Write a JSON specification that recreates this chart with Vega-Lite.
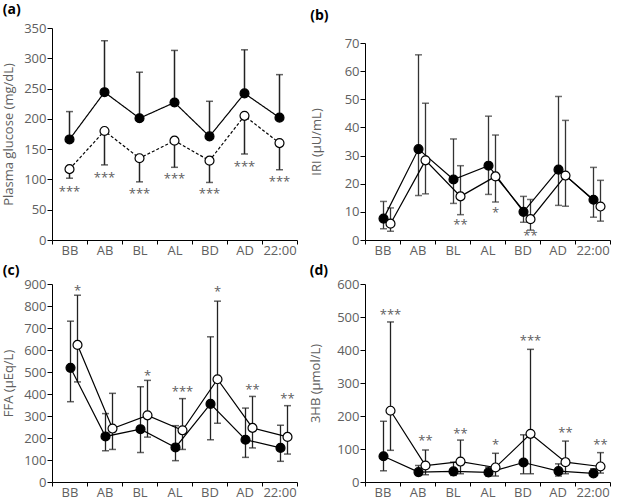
{
  "$schema": "https://vega.github.io/schema/vega-lite/v6.json",
  "padding": {"left": 2, "top": 3, "right": 3, "bottom": 0},
  "config": {
    "font": "Open Sans",
    "view": {"stroke": null},
    "axis": {"labelColor": "#606060", "labelFontSize": 13, "titleColor": "#606060", "titleFontSize": 13, "titleFontWeight": "normal", "domainColor": "#000", "tickColor": "#000", "grid": false, "tickSize": 5, "labelPadding": 1},
    "axisX": {"tickSize": 4, "labelPadding": 0},
    "title": {"fontSize": 14, "fontWeight": "bold", "color": "#000", "anchor": "start", "frame": "bounds"}
  },
  "spacing": 11,
  "hconcat": [
    {
      "spacing": 7,
      "vconcat": [
        {
          "title": {"text": "(a)", "offset": 5},
          "width": 245, "height": 212,
          "data": {"values": [
            {"t": "BB", "g": "closed", "m": 166, "lo": 166, "hi": 212},
            {"t": "AB", "g": "closed", "m": 244, "lo": 244, "hi": 329},
            {"t": "BL", "g": "closed", "m": 201, "lo": 201, "hi": 277},
            {"t": "AL", "g": "closed", "m": 227, "lo": 227, "hi": 313},
            {"t": "BD", "g": "closed", "m": 171, "lo": 171, "hi": 229},
            {"t": "AD", "g": "closed", "m": 242, "lo": 242, "hi": 314},
            {"t": "22:00", "g": "closed", "m": 202, "lo": 202, "hi": 273},
            {"t": "BB", "g": "open", "m": 117, "lo": 102, "hi": 117},
            {"t": "AB", "g": "open", "m": 180, "lo": 124, "hi": 180},
            {"t": "BL", "g": "open", "m": 135, "lo": 96, "hi": 135},
            {"t": "AL", "g": "open", "m": 164, "lo": 120, "hi": 164},
            {"t": "BD", "g": "open", "m": 131, "lo": 95, "hi": 131},
            {"t": "AD", "g": "open", "m": 205, "lo": 142, "hi": 205},
            {"t": "22:00", "g": "open", "m": 160, "lo": 116, "hi": 160}
          ]},
          "encoding": {
            "x": {"field": "t", "type": "nominal", "sort": ["BB", "AB", "BL", "AL", "BD", "AD", "22:00"], "scale": {"type": "band", "paddingInner": 0, "paddingOuter": 0}, "axis": {"title": null, "labelAngle": 0, "tickBand": "extent"}}
          },
          "layer": [
            {"mark": {"type": "rule", "color": "#222", "strokeWidth": 1.5}, "encoding": {"y": {"field": "lo", "type": "quantitative", "scale": {"domain": [0, 350]}, "axis": {"title": "Plasma glucose (mg/dL)", "values": [0, 50, 100, 150, 200, 250, 300, 350], "titlePadding": 8}}, "y2": {"field": "hi"}}},
            {"mark": {"type": "tick", "color": "#222", "size": 7, "thickness": 1.5}, "encoding": {"y": {"field": "hi", "type": "quantitative", "scale": {"domain": [0, 350]}, "axis": {"title": "Plasma glucose (mg/dL)", "values": [0, 50, 100, 150, 200, 250, 300, 350], "titlePadding": 8}}}},
            {"mark": {"type": "tick", "color": "#222", "size": 7, "thickness": 1.5}, "encoding": {"y": {"field": "lo", "type": "quantitative", "scale": {"domain": [0, 350]}, "axis": {"title": "Plasma glucose (mg/dL)", "values": [0, 50, 100, 150, 200, 250, 300, 350], "titlePadding": 8}}}},
            {"mark": {"type": "line", "color": "#000", "strokeWidth": 1.2}, "encoding": {"y": {"field": "m", "type": "quantitative", "scale": {"domain": [0, 350]}, "axis": {"title": "Plasma glucose (mg/dL)", "values": [0, 50, 100, 150, 200, 250, 300, 350], "titlePadding": 8}}, "strokeDash": {"field": "g", "type": "nominal", "scale": {"domain": ["closed", "open"], "range": [[1, 0], [3, 2]]}, "legend": null}}},
            {"mark": {"type": "point", "shape": "circle", "filled": true, "stroke": "#000", "strokeWidth": 1.2, "size": 80, "opacity": 1}, "encoding": {"y": {"field": "m", "type": "quantitative", "scale": {"domain": [0, 350]}, "axis": {"title": "Plasma glucose (mg/dL)", "values": [0, 50, 100, 150, 200, 250, 300, 350], "titlePadding": 8}}, "fill": {"field": "g", "type": "nominal", "scale": {"domain": ["closed", "open"], "range": ["#000", "#fff"]}, "legend": null}}},
            {
              "data": {"values": [
                {"t": "BB", "y": 84, "s": "***"}, {"t": "AB", "y": 107, "s": "***"}, {"t": "BL", "y": 81, "s": "***"},
                {"t": "AL", "y": 105, "s": "***"}, {"t": "BD", "y": 81, "s": "***"}, {"t": "AD", "y": 125, "s": "***"}, {"t": "22:00", "y": 100, "s": "***"}
              ]},
              "mark": {"type": "text", "fontSize": 13, "color": "#606060", "baseline": "alphabetic", "dy": 7},
              "encoding": {"y": {"field": "y", "type": "quantitative", "scale": {"domain": [0, 350]}, "axis": {"title": "Plasma glucose (mg/dL)", "values": [0, 50, 100, 150, 200, 250, 300, 350], "titlePadding": 8}}, "text": {"field": "s"}}
            }
          ]
        },
        {
          "title": {"text": "(c)", "offset": 0},
          "width": 245, "height": 198,
          "data": {"values": [
            {"t": "BB", "g": "closed", "m": 519, "lo": 365, "hi": 731},
            {"t": "AB", "g": "closed", "m": 207, "lo": 142, "hi": 311},
            {"t": "BL", "g": "closed", "m": 240, "lo": 134, "hi": 433},
            {"t": "AL", "g": "closed", "m": 157, "lo": 97, "hi": 256},
            {"t": "BD", "g": "closed", "m": 355, "lo": 192, "hi": 660},
            {"t": "AD", "g": "closed", "m": 192, "lo": 112, "hi": 336},
            {"t": "22:00", "g": "closed", "m": 155, "lo": 94, "hi": 258},
            {"t": "BB", "g": "open", "m": 623, "lo": 455, "hi": 849},
            {"t": "AB", "g": "open", "m": 243, "lo": 148, "hi": 403},
            {"t": "BL", "g": "open", "m": 303, "lo": 204, "hi": 462},
            {"t": "AL", "g": "open", "m": 235, "lo": 148, "hi": 379},
            {"t": "BD", "g": "open", "m": 467, "lo": 267, "hi": 822},
            {"t": "AD", "g": "open", "m": 246, "lo": 155, "hi": 389},
            {"t": "22:00", "g": "open", "m": 205, "lo": 127, "hi": 347}
          ]},
          "encoding": {
            "x": {"field": "t", "type": "nominal", "sort": ["BB", "AB", "BL", "AL", "BD", "AD", "22:00"], "scale": {"type": "band", "paddingInner": 0, "paddingOuter": 0}, "axis": {"title": null, "labelAngle": 0, "tickBand": "extent"}},
            "xOffset": {"field": "g", "type": "nominal", "scale": {"domain": ["closed", "open"], "range": [15, 29]}}
          },
          "layer": [
            {"mark": {"type": "rule", "color": "#222", "strokeWidth": 1.3}, "encoding": {"y": {"field": "lo", "type": "quantitative", "scale": {"domain": [0, 900]}, "axis": {"title": "FFA (μEq/L)", "values": [0, 100, 200, 300, 400, 500, 600, 700, 800, 900], "titlePadding": 8}}, "y2": {"field": "hi"}}},
            {"mark": {"type": "tick", "color": "#222", "size": 7, "thickness": 1.5}, "encoding": {"y": {"field": "hi", "type": "quantitative", "scale": {"domain": [0, 900]}, "axis": {"title": "FFA (μEq/L)", "values": [0, 100, 200, 300, 400, 500, 600, 700, 800, 900], "titlePadding": 8}}}},
            {"mark": {"type": "tick", "color": "#222", "size": 7, "thickness": 1.5}, "encoding": {"y": {"field": "lo", "type": "quantitative", "scale": {"domain": [0, 900]}, "axis": {"title": "FFA (μEq/L)", "values": [0, 100, 200, 300, 400, 500, 600, 700, 800, 900], "titlePadding": 8}}}},
            {"mark": {"type": "line", "color": "#000", "strokeWidth": 1.2}, "encoding": {"y": {"field": "m", "type": "quantitative", "scale": {"domain": [0, 900]}, "axis": {"title": "FFA (μEq/L)", "values": [0, 100, 200, 300, 400, 500, 600, 700, 800, 900], "titlePadding": 8}}, "detail": {"field": "g"}}},
            {"mark": {"type": "point", "shape": "circle", "filled": true, "stroke": "#000", "strokeWidth": 1.2, "size": 80, "opacity": 1}, "encoding": {"y": {"field": "m", "type": "quantitative", "scale": {"domain": [0, 900]}, "axis": {"title": "FFA (μEq/L)", "values": [0, 100, 200, 300, 400, 500, 600, 700, 800, 900], "titlePadding": 8}}, "fill": {"field": "g", "type": "nominal", "scale": {"domain": ["closed", "open"], "range": ["#000", "#fff"]}, "legend": null}}},
            {
              "data": {"values": [
                {"t": "BB", "g": "open", "y": 881, "s": "*"}, {"t": "BL", "g": "open", "y": 494, "s": "*"}, {"t": "AL", "g": "open", "y": 422, "s": "***"},
                {"t": "BD", "g": "open", "y": 879, "s": "*"}, {"t": "AD", "g": "open", "y": 434, "s": "**"}, {"t": "22:00", "g": "open", "y": 392, "s": "**"}
              ]},
              "mark": {"type": "text", "fontSize": 13, "color": "#606060", "baseline": "alphabetic", "dy": 7},
              "encoding": {"y": {"field": "y", "type": "quantitative", "scale": {"domain": [0, 900]}, "axis": {"title": "FFA (μEq/L)", "values": [0, 100, 200, 300, 400, 500, 600, 700, 800, 900], "titlePadding": 8}}, "text": {"field": "s"}}
            }
          ]
        }
      ]
    },
    {
      "spacing": 7,
      "vconcat": [
        {
          "title": {"text": "(b)", "offset": 5},
          "width": 245, "height": 212,
          "data": {"values": [
            {"t": "BB", "g": "closed", "m": 7.6, "lo": 4.0, "hi": 13.7},
            {"t": "AB", "g": "closed", "m": 32.3, "lo": 15.8, "hi": 65.8},
            {"t": "BL", "g": "closed", "m": 21.5, "lo": 13, "hi": 35.9},
            {"t": "AL", "g": "closed", "m": 26.4, "lo": 16.2, "hi": 44},
            {"t": "BD", "g": "closed", "m": 10, "lo": 6.3, "hi": 15.5},
            {"t": "AD", "g": "closed", "m": 25, "lo": 12.3, "hi": 51},
            {"t": "22:00", "g": "closed", "m": 14.3, "lo": 8.1, "hi": 25.8},
            {"t": "BB", "g": "open", "m": 5.8, "lo": 3.1, "hi": 11.4},
            {"t": "AB", "g": "open", "m": 28.3, "lo": 16.4, "hi": 48.6},
            {"t": "BL", "g": "open", "m": 15.5, "lo": 9, "hi": 26.4},
            {"t": "AL", "g": "open", "m": 22.6, "lo": 13.5, "hi": 37.3},
            {"t": "BD", "g": "open", "m": 7.4, "lo": 3.5, "hi": 14.4},
            {"t": "AD", "g": "open", "m": 22.9, "lo": 12, "hi": 42.5},
            {"t": "22:00", "g": "open", "m": 11.9, "lo": 6.7, "hi": 21.2}
          ]},
          "encoding": {
            "x": {"field": "t", "type": "nominal", "sort": ["BB", "AB", "BL", "AL", "BD", "AD", "22:00"], "scale": {"type": "band", "paddingInner": 0, "paddingOuter": 0}, "axis": {"title": null, "labelAngle": 0, "tickBand": "extent"}},
            "xOffset": {"field": "g", "type": "nominal", "scale": {"domain": ["closed", "open"], "range": [15, 29]}}
          },
          "layer": [
            {"mark": {"type": "rule", "color": "#333", "strokeWidth": 1.3}, "encoding": {"y": {"field": "lo", "type": "quantitative", "scale": {"domain": [0, 70], "range": [212, 15]}, "axis": {"title": "IRI (μU/mL)", "values": [0, 10, 20, 30, 40, 50, 60, 70], "titlePadding": 21}}, "y2": {"field": "hi"}}},
            {"mark": {"type": "tick", "color": "#333", "size": 7, "thickness": 1.5}, "encoding": {"y": {"field": "hi", "type": "quantitative", "scale": {"domain": [0, 70], "range": [212, 15]}, "axis": {"title": "IRI (μU/mL)", "values": [0, 10, 20, 30, 40, 50, 60, 70], "titlePadding": 21}}}},
            {"mark": {"type": "tick", "color": "#333", "size": 7, "thickness": 1.5}, "encoding": {"y": {"field": "lo", "type": "quantitative", "scale": {"domain": [0, 70], "range": [212, 15]}, "axis": {"title": "IRI (μU/mL)", "values": [0, 10, 20, 30, 40, 50, 60, 70], "titlePadding": 21}}}},
            {"mark": {"type": "line", "color": "#000", "strokeWidth": 1.2}, "encoding": {"y": {"field": "m", "type": "quantitative", "scale": {"domain": [0, 70], "range": [212, 15]}, "axis": {"title": "IRI (μU/mL)", "values": [0, 10, 20, 30, 40, 50, 60, 70], "titlePadding": 21}}, "detail": {"field": "g"}}},
            {"mark": {"type": "point", "shape": "circle", "filled": true, "stroke": "#000", "strokeWidth": 1.2, "size": 80, "opacity": 1}, "encoding": {"y": {"field": "m", "type": "quantitative", "scale": {"domain": [0, 70], "range": [212, 15]}, "axis": {"title": "IRI (μU/mL)", "values": [0, 10, 20, 30, 40, 50, 60, 70], "titlePadding": 21}}, "fill": {"field": "g", "type": "nominal", "scale": {"domain": ["closed", "open"], "range": ["#000", "#fff"]}, "legend": null}}},
            {
              "data": {"values": [
                {"t": "BL", "g": "open", "y": 6.5, "s": "**"}, {"t": "AL", "g": "open", "y": 10.5, "s": "*"}, {"t": "BD", "g": "open", "y": 2.6, "s": "**"}
              ]},
              "mark": {"type": "text", "fontSize": 13, "color": "#606060", "baseline": "alphabetic", "dy": 7},
              "encoding": {"y": {"field": "y", "type": "quantitative", "scale": {"domain": [0, 70], "range": [212, 15]}, "axis": {"title": "IRI (μU/mL)", "values": [0, 10, 20, 30, 40, 50, 60, 70], "titlePadding": 21}}, "text": {"field": "s"}}
            }
          ]
        },
        {
          "title": {"text": "(d)", "offset": 0},
          "width": 245, "height": 198,
          "data": {"values": [
            {"t": "BB", "g": "closed", "m": 78, "lo": 34, "hi": 184},
            {"t": "AB", "g": "closed", "m": 30, "lo": 20, "hi": 50},
            {"t": "BL", "g": "closed", "m": 32, "lo": 20, "hi": 60},
            {"t": "AL", "g": "closed", "m": 29, "lo": 18, "hi": 45},
            {"t": "BD", "g": "closed", "m": 59, "lo": 25, "hi": 143},
            {"t": "AD", "g": "closed", "m": 33, "lo": 18, "hi": 55},
            {"t": "22:00", "g": "closed", "m": 26, "lo": 18, "hi": 40},
            {"t": "BB", "g": "open", "m": 216, "lo": 96, "hi": 485},
            {"t": "AB", "g": "open", "m": 50, "lo": 22, "hi": 97},
            {"t": "BL", "g": "open", "m": 62, "lo": 25, "hi": 127},
            {"t": "AL", "g": "open", "m": 44, "lo": 18, "hi": 87},
            {"t": "BD", "g": "open", "m": 146, "lo": 25, "hi": 402},
            {"t": "AD", "g": "open", "m": 60, "lo": 25, "hi": 124},
            {"t": "22:00", "g": "open", "m": 47, "lo": 27, "hi": 89}
          ]},
          "encoding": {
            "x": {"field": "t", "type": "nominal", "sort": ["BB", "AB", "BL", "AL", "BD", "AD", "22:00"], "scale": {"type": "band", "paddingInner": 0, "paddingOuter": 0}, "axis": {"title": null, "labelAngle": 0, "tickBand": "extent"}},
            "xOffset": {"field": "g", "type": "nominal", "scale": {"domain": ["closed", "open"], "range": [15, 29]}}
          },
          "layer": [
            {"mark": {"type": "rule", "color": "#222", "strokeWidth": 1.3}, "encoding": {"y": {"field": "lo", "type": "quantitative", "scale": {"domain": [0, 600]}, "axis": {"title": "3HB (μmol/L)", "values": [0, 100, 200, 300, 400, 500, 600], "titlePadding": 14}}, "y2": {"field": "hi"}}},
            {"mark": {"type": "tick", "color": "#222", "size": 7, "thickness": 1.5}, "encoding": {"y": {"field": "hi", "type": "quantitative", "scale": {"domain": [0, 600]}, "axis": {"title": "3HB (μmol/L)", "values": [0, 100, 200, 300, 400, 500, 600], "titlePadding": 14}}}},
            {"mark": {"type": "tick", "color": "#222", "size": 7, "thickness": 1.5}, "encoding": {"y": {"field": "lo", "type": "quantitative", "scale": {"domain": [0, 600]}, "axis": {"title": "3HB (μmol/L)", "values": [0, 100, 200, 300, 400, 500, 600], "titlePadding": 14}}}},
            {"mark": {"type": "line", "color": "#000", "strokeWidth": 1.2}, "encoding": {"y": {"field": "m", "type": "quantitative", "scale": {"domain": [0, 600]}, "axis": {"title": "3HB (μmol/L)", "values": [0, 100, 200, 300, 400, 500, 600], "titlePadding": 14}}, "detail": {"field": "g"}}},
            {"mark": {"type": "point", "shape": "circle", "filled": true, "stroke": "#000", "strokeWidth": 1.2, "size": 80, "opacity": 1}, "encoding": {"y": {"field": "m", "type": "quantitative", "scale": {"domain": [0, 600]}, "axis": {"title": "3HB (μmol/L)", "values": [0, 100, 200, 300, 400, 500, 600], "titlePadding": 14}}, "fill": {"field": "g", "type": "nominal", "scale": {"domain": ["closed", "open"], "range": ["#000", "#fff"]}, "legend": null}}},
            {
              "data": {"values": [
                {"t": "BB", "g": "open", "y": 515, "s": "***"}, {"t": "AB", "g": "open", "y": 133, "s": "**"}, {"t": "BL", "g": "open", "y": 154, "s": "**"},
                {"t": "AL", "g": "open", "y": 121, "s": "*"}, {"t": "BD", "g": "open", "y": 437, "s": "***"}, {"t": "AD", "g": "open", "y": 158, "s": "**"}, {"t": "22:00", "g": "open", "y": 121, "s": "**"}
              ]},
              "mark": {"type": "text", "fontSize": 13, "color": "#606060", "baseline": "alphabetic", "dy": 7},
              "encoding": {"y": {"field": "y", "type": "quantitative", "scale": {"domain": [0, 600]}, "axis": {"title": "3HB (μmol/L)", "values": [0, 100, 200, 300, 400, 500, 600], "titlePadding": 14}}, "text": {"field": "s"}}
            }
          ]
        }
      ]
    }
  ]
}
